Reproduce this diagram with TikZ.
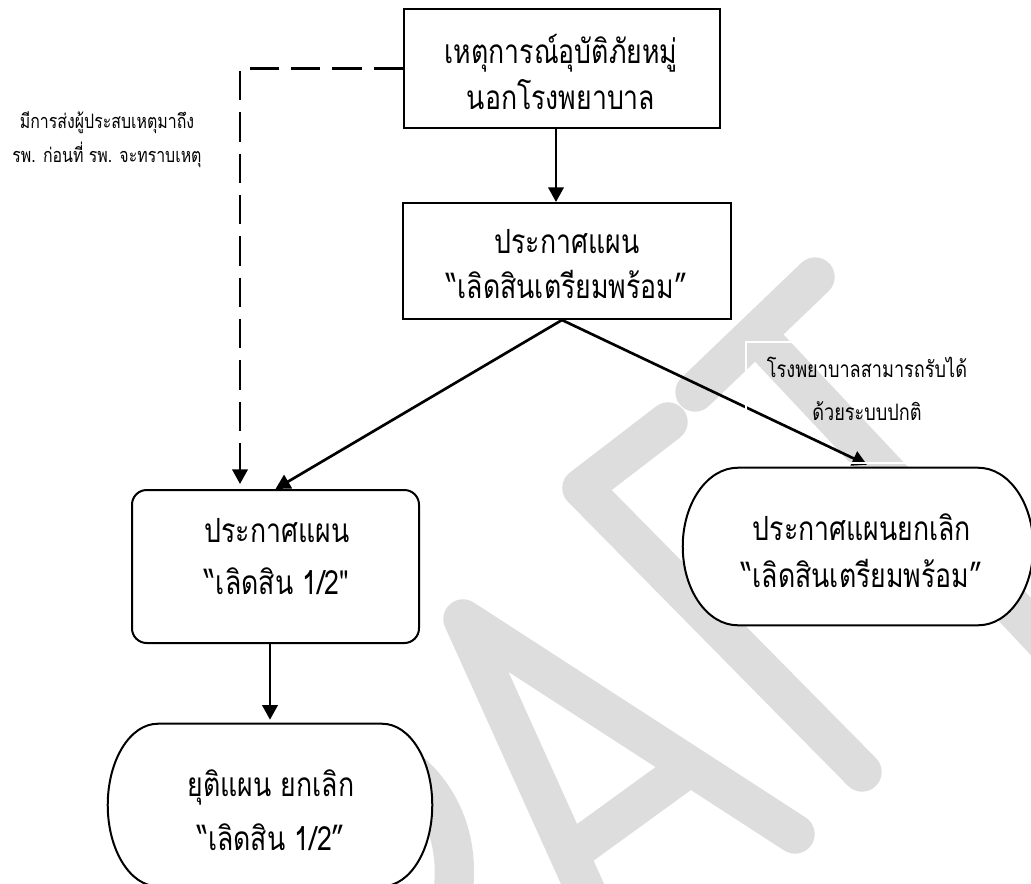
\documentclass[tikz,border=0pt]{standalone}
\usepackage{fontspec}
\newfontfamily\thaifont[Script=Thai, FakeStretch=0.8]{Loma}
\usetikzlibrary{arrows.meta,calc}
\definecolor{wm}{RGB}{221,221,221}
\newcommand{\tmoutline}[2]{%
 \coordinate (#1-tl) at ($(#1.north west)+(#2,0)$);
 \coordinate (#1-tr) at ($(#1.north east)+(-#2,0)$);
 \coordinate (#1-bl) at ($(#1.south west)+(#2,0)$);
 \coordinate (#1-br) at ($(#1.south east)+(-#2,0)$);
 \draw[boxline] (#1-tl) -- (#1-tr)
   .. controls ($(#1-tr)!0.5523!(#1.north east)$) and ($(#1.east)!0.5523!(#1.north east)$) .. (#1.east)
   .. controls ($(#1.east)!0.5523!(#1.south east)$) and ($(#1-br)!0.5523!(#1.south east)$) .. (#1-br)
   -- (#1-bl)
   .. controls ($(#1-bl)!0.5523!(#1.south west)$) and ($(#1.west)!0.5523!(#1.south west)$) .. (#1.west)
   .. controls ($(#1.west)!0.5523!(#1.north west)$) and ($(#1-tl)!0.5523!(#1.north west)$) .. (#1-tl) -- cycle;
}
\tikzset{
 wmstroke/.style={draw=wm, line width=29.5pt, line cap=round, line join=round},
 boxline/.style={draw=black, line width=1.5pt, fill=white},
 arr/.style={draw=black, line width=2pt, -{Triangle[length=11pt,width=11.5pt]}},
 dasharr/.style={arr, line width=2.2pt, dash pattern=on 22pt off 9pt},
 maintxt/.style={font=\thaifont\fontsize{25}{#1}\selectfont, align=center, inner sep=0pt},
 maintxt/.default=34pt,
 lefttxt/.style={font=\thaifont\fontsize{14.9}{#1}\selectfont, align=center, inner sep=0pt},
 righttxt/.style={font=\thaifont\fontsize{17}{#1}\selectfont, align=center, inner sep=0pt},
}
\begin{document}
\begin{tikzpicture}[x=0.75pt,y=-0.75pt]
\useasboundingbox (0,0) rectangle (1031,883);
\clip (0,0) rectangle (1031,883);
\fill[white] (0,0) rectangle (1031,883);
% watermark
\draw[wmstroke] (795,834) -- (463,619) -- (592,905);
\draw[wmstroke] (685,770) -- (572,852);
\draw[wmstroke] (668,422) -- (582,488) -- (862,772);
\draw[wmstroke] (708,616) -- (770,551);
\draw[wmstroke] (695,392) -- (815,277);
\draw[wmstroke] (757,335) -- (1100,700);
\draw[wmstroke] (395,760) .. controls (440,790) and (462,840) .. (452,900);
% boxes
\node[boxline, inner sep=0pt, minimum width=237pt, minimum height=89.25pt] (box1) at (562,68.5) {};
\node[boxline, inner sep=0pt, minimum width=246pt, minimum height=87pt] (box2) at (567,261) {};
\node[boxline, inner sep=0pt, rounded corners=11pt, minimum width=215.25pt, minimum height=114.75pt] (box3) at (275.5,566.5) {};
\node[inner sep=0pt, minimum width=262.5pt, minimum height=117.75pt] (rterm) at (858,546.5) {};
\node[inner sep=0pt, minimum width=243pt, minimum height=121.5pt] (bterm) at (270,805) {};
\tmoutline{rterm}{55}
\tmoutline{bterm}{50}
% texts
\node[maintxt] (t1) at (561,72) {เหตุการณ์อุบัติภัยหมู่\\นอกโรงพยาบาล};
\node[maintxt] (t2) at (567,264) {ประกาศแผน\\“เลิดสินเตรียมพร้อม”};
\node[maintxt=39pt] (t3) at (277,557) {ประกาศแผน\\“เลิดสิน 1/2"};
\node[maintxt=35pt] (t4) at (862,551) {ประกาศแผนยกเลิก\\“เลิดสินเตรียมพร้อม”};
\node[maintxt=40.5pt] (t5) at (271,810) {ยุติแผน ยกเลิก\\“เลิดสิน 1/2”};
\node[lefttxt=25.5pt] (lab1) at (107,140) {มีการส่งผู้ประสบเหตุมาถึง\\รพ. ก่อนที่ รพ. จะทราบเหตุ};
\node[righttxt=32pt] (lab2) at (867,389) {โรงพยาบาลสามารถรับได้\\ด้วยระบบปกติ};
% connectors
\coordinate (c1) at ($(box1.south)+(-6,0)$);
\coordinate (split) at ($(box2.south)+(-5,0)$);
\coordinate (rt) at ($(rterm.north)+(9,-3)$);
\coordinate (dcorner) at ($(box1.west)+(-163,0)$);
\draw[arr] (c1) -- (c1 |- box2.north);
\draw[arr] (split) -- (box3.north);
\draw[arr] (split) -- (rt);
\draw[arr] (box3.south -| bterm.north) -- ($(bterm.north)+(0,-4)$);
\draw[dasharr] (box1.west) -- (dcorner) -- ($(dcorner |- box3.north)+(0,-5)$);
% white frame of the label
\node[draw=white, line width=2pt, inner sep=0pt, minimum width=183pt, minimum height=90.75pt] (lab2frame) at (868,402.5) {};
\end{tikzpicture}
\end{document}
